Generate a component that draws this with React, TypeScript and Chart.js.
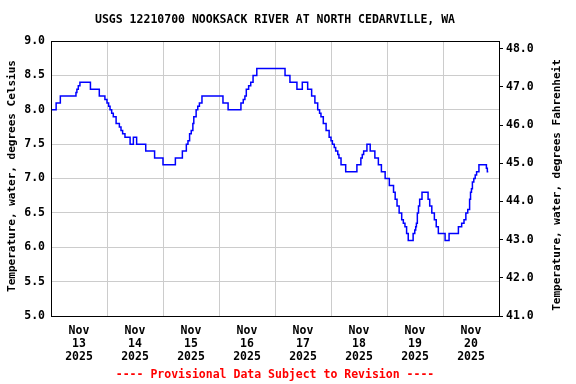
import React, { useEffect, useRef } from "react";
import { Chart, registerables } from "chart.js";

Chart.register(...registerables);

const TITLE = "USGS 12210700 NOOKSACK RIVER AT NORTH CEDARVILLE, WA";
const FOOTER = "---- Provisional Data Subject to Revision ----";
const LEFT_TITLE = "Temperature, water, degrees Celsius";
const RIGHT_TITLE = "Temperature, water, degrees Fahrenheit";

const MONTH = "Nov";
const YEAR = "2025";
const DAY_LABELS = ["13", "14", "15", "16", "17", "18", "19", "20"];
const CELSIUS_TICKS = [5.0, 5.5, 6.0, 6.5, 7.0, 7.5, 8.0, 8.5, 9.0];
const FAHRENHEIT_TICKS = [41, 42, 43, 44, 45, 46, 47, 48];

// hours since Nov 13 00:00 at which the reading changes
const HOURS = [
  0, 2.2, 4.0, 10.7, 11.1, 11.7, 12.4, 16.9, 20.7, 23.1, 24.0, 24.7, 25.3, 26.0,
  26.7, 27.9, 29.3, 30.0, 30.7, 31.7, 33.9, 35.3, 36.7, 40.6, 44.4, 48.0, 53.3,
  56.3, 58.0, 58.7, 59.4, 60.1, 60.8, 61.2, 62.2, 62.9, 63.6, 64.7, 73.7, 75.9,
  81.4, 82.4, 83.1, 83.7, 84.7, 85.6, 86.6, 88.2, 100.3, 102.4, 105.4, 107.7,
  110.0, 111.7, 113.1, 114.3, 115.1, 115.7, 116.7, 117.9, 119.2, 120.0, 120.6,
  121.4, 122.0, 122.9, 123.4, 124.3, 126.3, 131.1, 132.8, 133.4, 134.0, 135.4,
  136.8, 138.8, 140.3, 141.6, 143.2, 145.0, 146.8, 147.5, 148.3, 149.2, 150.3,
  151.0, 151.7, 152.4, 153.1, 155.2, 155.9, 156.3, 156.6, 157.0, 157.5, 158.0,
  159.0, 161.6, 162.3, 163.2, 164.3, 165.1, 166.0, 168.9, 170.6, 174.6, 176.0,
  177.0, 177.8, 178.6, 179.4, 179.8, 180.2, 180.6, 181.2, 181.8, 182.4, 183.4,
  186.6, 187.0, 187.4,
];
const TEMP_C = [
  8.0, 8.1, 8.2, 8.25, 8.3, 8.35, 8.4, 8.3, 8.2, 8.15, 8.1, 8.05, 8.0, 7.95,
  7.9, 7.8, 7.75, 7.7, 7.65, 7.6, 7.5, 7.6, 7.5, 7.4, 7.3, 7.2, 7.3,
  7.4, 7.5, 7.55, 7.65, 7.7, 7.8, 7.9, 8.0, 8.05, 8.1, 8.2, 8.1, 8.0,
  8.1, 8.15, 8.2, 8.3, 8.35, 8.4, 8.5, 8.6, 8.5, 8.4, 8.3, 8.4,
  8.3, 8.2, 8.1, 8.0, 7.95, 7.9, 7.8, 7.7, 7.6, 7.55, 7.5,
  7.45, 7.4, 7.35, 7.3, 7.2, 7.1, 7.2, 7.3, 7.35, 7.4, 7.5,
  7.4, 7.3, 7.2, 7.1, 7.0, 6.9, 6.8, 6.7, 6.6, 6.5, 6.4,
  6.35, 6.3, 6.2, 6.1, 6.2, 6.25, 6.3, 6.35, 6.5, 6.6, 6.7,
  6.8, 6.7, 6.6, 6.5, 6.4, 6.3, 6.2, 6.1, 6.2, 6.3, 6.35,
  6.4, 6.5, 6.55, 6.7, 6.8, 6.85, 6.95, 7.0, 7.05, 7.1, 7.2,
  7.15, 7.1, 7.1,
];

const FONT_FAMILY = '"DejaVu Sans Mono", monospace';

const textPlugin = {
  id: "usgsText",
  afterDraw(chart: any) {
    const ctx = chart.ctx;
    const area = chart.chartArea;
    ctx.save();
    // frame
    ctx.strokeStyle = "#000000";
    ctx.lineWidth = 1;
    ctx.strokeRect(
      Math.round(area.left) + 0.5,
      Math.round(area.top) + 0.5,
      Math.round(area.right) - Math.round(area.left),
      Math.round(area.bottom) - Math.round(area.top)
    );
    ctx.fillStyle = "#000000";
    ctx.font = `bold 11.5px ${FONT_FAMILY}`;
    ctx.textAlign = "center";
    ctx.textBaseline = "middle";
    const cx = (area.left + area.right) / 2;
    ctx.fillText(TITLE, cx, 20);
    ctx.fillStyle = "#ff0000";
    ctx.fillText(FOOTER, cx, 375);
    ctx.fillStyle = "#000000";
    ctx.save();
    ctx.translate(12, 176);
    ctx.rotate(-Math.PI / 2);
    ctx.font = `bold 11px ${FONT_FAMILY}`;
    ctx.fillText(LEFT_TITLE, 0, 0);
    ctx.restore();
    ctx.save();
    ctx.translate(557, 185);
    ctx.rotate(-Math.PI / 2);
    ctx.font = `bold 11px ${FONT_FAMILY}`;
    ctx.fillText(RIGHT_TITLE, 0, 0);
    ctx.restore();
    ctx.restore();
  },
};

export default function App() {
  const ref = useRef<HTMLCanvasElement | null>(null);
  useEffect(() => {
    document.body.style.margin = "0";
    const canvas = ref.current;
    if (!canvas) return;
    const font = { family: FONT_FAMILY, size: 11.5, weight: "bold" as const };
    const chart = new Chart(canvas, {
      type: "line",
      data: {
        datasets: [
          {
            data: HOURS.map((h, i) => ({ x: h, y: TEMP_C[i] })),
            borderColor: "#0000ff",
            borderWidth: 1.5,
            pointRadius: 0,
            stepped: true,
            xAxisID: "x",
            yAxisID: "y",
          },
        ],
      },
      options: {
        responsive: false,
        animation: false,
        devicePixelRatio: 1,
        layout: { padding: { top: 41, left: 0, right: 0, bottom: 0 } },
        plugins: {
          legend: { display: false },
          tooltip: { enabled: false },
          title: { display: false },
        },
        scales: {
          x: {
            type: "linear",
            min: 0,
            max: 192,
            afterBuildTicks: (s: any) => {
              const t = [];
              for (let v = 0; v <= 192; v += 12) t.push({ value: v });
              s.ticks = t;
            },
            afterFit: (s: any) => {
              s.height = 68;
            },
            grid: {
              color: (c: any) =>
                c.tick && c.tick.value % 24 === 0 ? "#cccccc" : "rgba(0,0,0,0)",
              drawTicks: false,
              lineWidth: 1,
            },
            border: { display: false },
            ticks: {
              autoSkip: false,
              maxRotation: 0,
              minRotation: 0,
              padding: 9,
              color: "#000000",
              font: { ...font, lineHeight: 1.13 },
              callback: (v: any) =>
                v % 24 === 12 ? [MONTH, DAY_LABELS[(v - 12) / 24], YEAR] : "",
            },
          },
          y: {
            position: "left",
            min: 5,
            max: 9,
            afterBuildTicks: (s: any) => {
              s.ticks = CELSIUS_TICKS.map((v) => ({ value: v }));
            },
            afterFit: (s: any) => {
              s.width = 51;
            },
            grid: { color: "#cccccc", drawTicks: false, lineWidth: 1 },
            border: { display: false },
            ticks: {
              padding: 6,
              color: "#000000",
              font,
              callback: (v: any) => Number(v).toFixed(1),
            },
          },
          y2: {
            position: "right",
            min: 41,
            max: 48.2,
            afterBuildTicks: (s: any) => {
              s.ticks = FAHRENHEIT_TICKS.map((v) => ({ value: v }));
            },
            afterFit: (s: any) => {
              s.width = 77;
            },
            grid: {
              drawOnChartArea: false,
              drawTicks: true,
              tickLength: 4,
              color: "#000000",
            },
            border: { display: false },
            ticks: {
              padding: 3,
              color: "#000000",
              font,
              callback: (v: any) => Number(v).toFixed(1),
            },
          },
        },
      },
      plugins: [textPlugin],
    });
    return () => chart.destroy();
  }, []);
  return (
    <canvas
      ref={ref}
      width={576}
      height={384}
      style={{ position: "fixed", left: 0, top: 0, width: 576, height: 384 }}
    />
  );
}
